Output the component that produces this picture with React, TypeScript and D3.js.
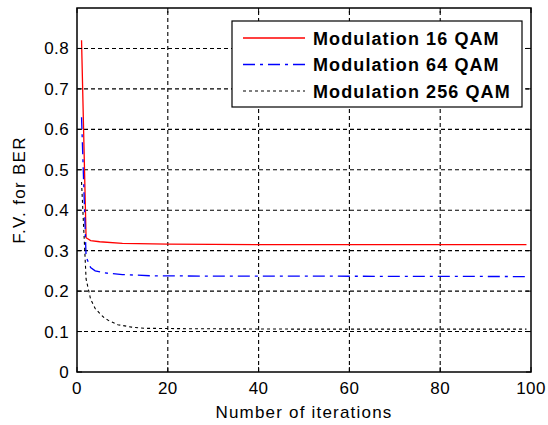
import React from 'react';
import * as d3 from 'd3';

// Fitness value of BER per iteration, sampled at the iterations listed
const iters16 = [1, 2, 3, 5, 10, 20, 40, 60, 80, 99];
const fv16 = [0.82, 0.332, 0.325, 0.322, 0.318, 0.316, 0.315, 0.315, 0.315, 0.315];

const iters64 = [1, 2, 3, 4, 6, 10, 16, 30, 50, 99];
const fv64 = [0.63, 0.285, 0.258, 0.25, 0.245, 0.241, 0.238, 0.237, 0.237, 0.236];

const iters256 = [1, 2, 3, 4, 5, 6, 7, 9, 12, 15, 25, 50, 99];
const fv256 = [0.47, 0.23, 0.18, 0.157, 0.145, 0.134, 0.127, 0.117, 0.111, 0.108, 0.107, 0.106, 0.106];

const xTicks = [0, 20, 40, 60, 80, 100];
const yTicks = [0, 0.1, 0.2, 0.3, 0.4, 0.5, 0.6, 0.7, 0.8];
const seriesNames = ['Modulation 16 QAM', 'Modulation 64 QAM', 'Modulation 256 QAM'];
const xTitle = 'Number of iterations';
const yTitle = 'F.V. for BER';

const W = 548;
const H = 425;
const left = 77;
const right = 531;
const top = 8;
const bottom = 372;
const FONT = '"Liberation Sans", Arial, sans-serif';

const seriesStyle = [
  { color: '#ff0000', dash: undefined as string | undefined, width: 1.3 },
  { color: '#0000ff', dash: '12,5,3,5', width: 1.3 },
  { color: '#000000', dash: '3,3', width: 1.1 },
];

export default function App() {
  const x = d3.scaleLinear().domain([0, 100]).range([left, right]);
  const y = d3.scaleLinear().domain([0, 0.9]).range([bottom, top]);

  const line = d3
    .line<[number, number]>()
    .x((d) => x(d[0]))
    .y((d) => y(d[1]));

  const series: [number, number][][] = [
    iters16.map((it, i) => [it, fv16[i]]),
    iters64.map((it, i) => [it, fv64[i]]),
    iters256.map((it, i) => [it, fv256[i]]),
  ];

  const tickLen = 5;
  const gridDash = '4,3';

  return (
    <svg
      width={W}
      height={H}
      viewBox={`0 0 ${W} ${H}`}
      style={{ position: 'absolute', left: 0, top: 0, display: 'block', background: '#fff' }}
      fontFamily={FONT}
    >
      <rect x={0} y={0} width={W} height={H} fill="#fff" />

      {/* grid */}
      {xTicks
        .filter((t) => t > 0 && t < 100)
        .map((t) => (
          <line key={`gx${t}`} x1={x(t)} x2={x(t)} y1={bottom} y2={top} stroke="#000" strokeWidth={1.1} strokeDasharray={gridDash} />
        ))}
      {yTicks
        .filter((t) => t > 0)
        .map((t) => (
          <line key={`gy${t}`} x1={left} x2={right} y1={y(t)} y2={y(t)} stroke="#000" strokeWidth={1.1} strokeDasharray={gridDash} />
        ))}

      {/* data */}
      {series.map((s, i) => (
        <path
          key={`s${i}`}
          d={line(s) ?? ''}
          fill="none"
          stroke={seriesStyle[i].color}
          strokeWidth={seriesStyle[i].width}
          strokeDasharray={seriesStyle[i].dash}
        />
      ))}

      {/* ticks on all four sides */}
      {xTicks.map((t) => (
        <g key={`tx${t}`}>
          <line x1={x(t)} x2={x(t)} y1={bottom} y2={bottom - tickLen} stroke="#000" strokeWidth={1} />
          <line x1={x(t)} x2={x(t)} y1={top} y2={top + tickLen} stroke="#000" strokeWidth={1} />
          <text x={x(t)} y={394} textAnchor="middle" fontSize={17} letterSpacing={0.4} fill="#000">
            {t}
          </text>
        </g>
      ))}
      {yTicks.map((t) => (
        <g key={`ty${t}`}>
          <line x1={left} x2={left + tickLen} y1={y(t)} y2={y(t)} stroke="#000" strokeWidth={1} />
          <line x1={right} x2={right - tickLen} y1={y(t)} y2={y(t)} stroke="#000" strokeWidth={1} />
          <text x={69} y={y(t) + 6} textAnchor="end" fontSize={17} letterSpacing={0.4} fill="#000">
            {t === 0 ? '0' : d3.format('.1f')(t)}
          </text>
        </g>
      ))}

      {/* frame */}
      <rect x={left} y={top} width={right - left} height={bottom - top} fill="none" stroke="#000" strokeWidth={1.5} />

      {/* axis titles */}
      <text x={(left + right) / 2} y={418} textAnchor="middle" fontSize={17} letterSpacing={1.2} fill="#000">
        {xTitle}
      </text>
      <text
        transform={`translate(25, ${(top + bottom) / 2}) rotate(-90)`}
        textAnchor="middle"
        fontSize={17}
        letterSpacing={1.3}
        fill="#000"
      >
        {yTitle}
      </text>

      {/* legend */}
      <rect x={232} y={21} width={290} height={86} fill="#fff" stroke="#000" strokeWidth={1.2} />
      {seriesNames.map((name, i) => {
        const cy = 38 + i * 26.5;
        return (
          <g key={`lg${i}`}>
            <line
              x1={243}
              x2={305}
              y1={cy}
              y2={cy}
              stroke={seriesStyle[i].color}
              strokeWidth={seriesStyle[i].width}
              strokeDasharray={seriesStyle[i].dash}
            />
            <text x={313} y={cy + 6.5} fontSize={18} fontWeight="bold" letterSpacing={1.1} fill="#000">
              {name}
            </text>
          </g>
        );
      })}
    </svg>
  );
}
